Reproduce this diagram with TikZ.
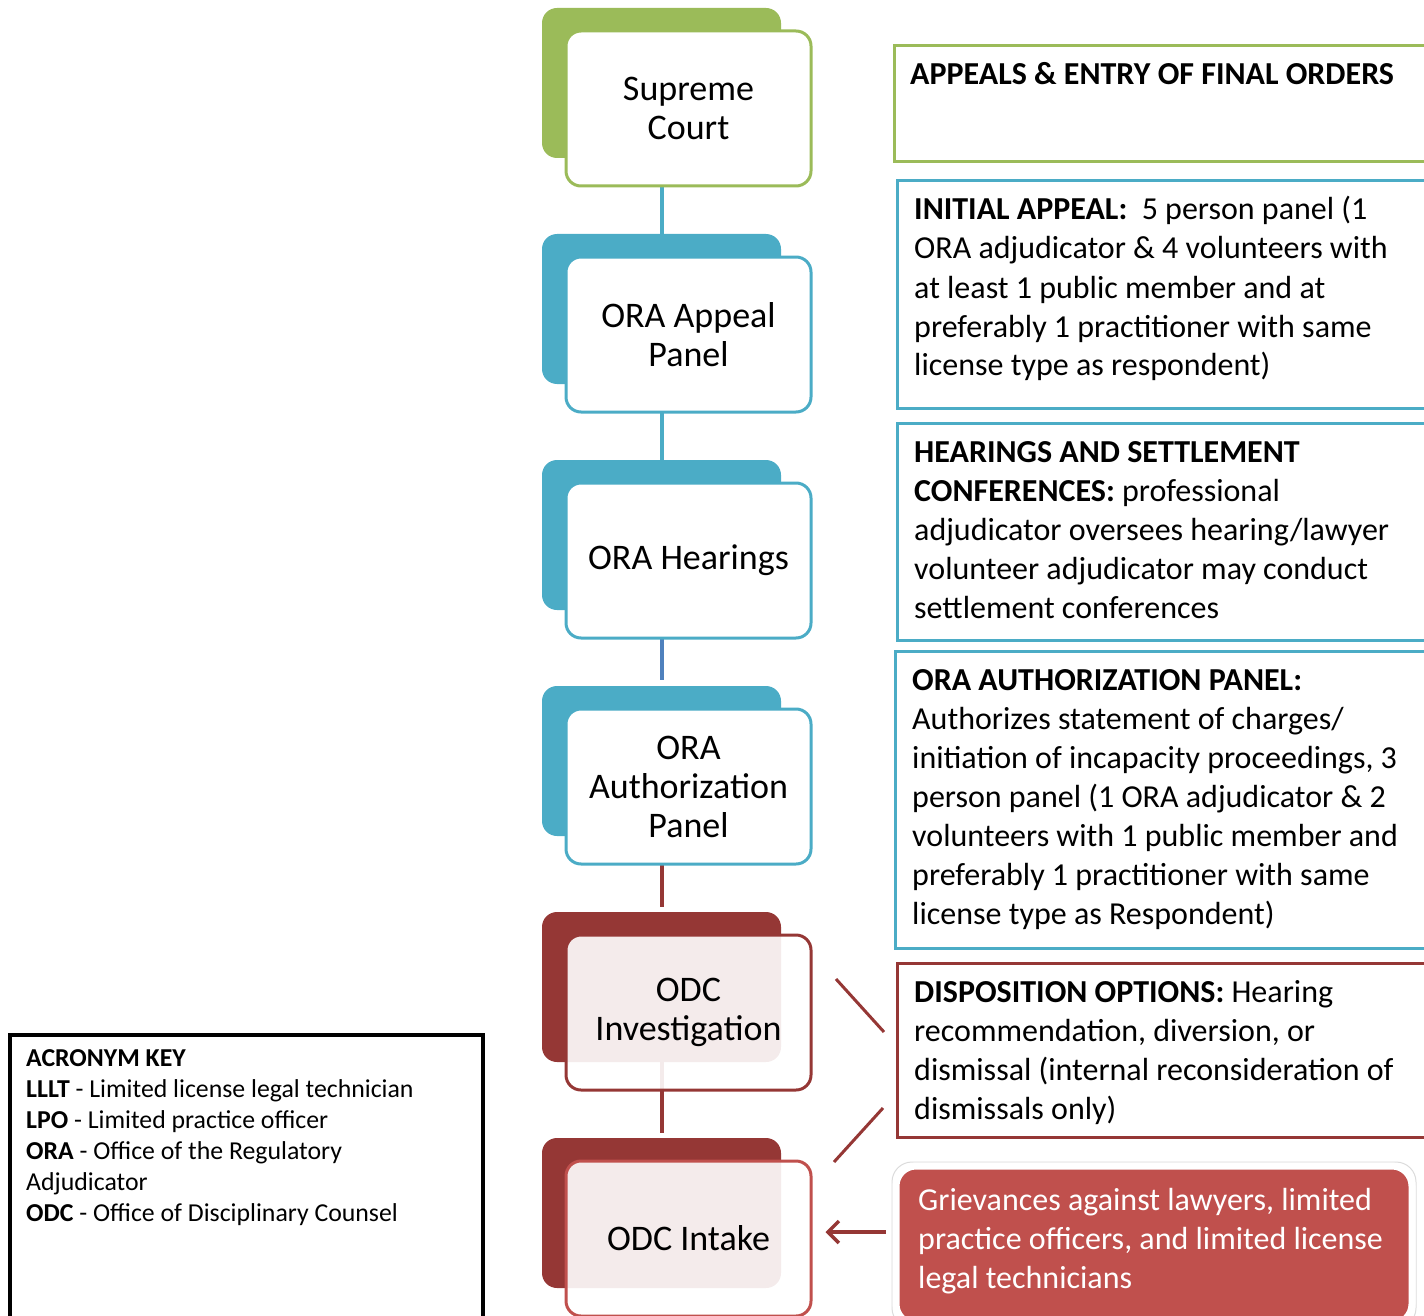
\documentclass[tikz,border=0pt]{standalone}
\usepackage{fontspec}
\setmainfont{Carlito}
\usetikzlibrary{arrows.meta}
\definecolor{cgreen}{HTML}{9BBB59}
\definecolor{cblue}{HTML}{4BACC6}
\definecolor{cdblue}{HTML}{4F81BD}
\definecolor{cdred}{HTML}{953735}
\definecolor{cred}{HTML}{C0504D}
\tikzset{
  backbox/.style={rounded corners=15pt, minimum width=239pt, minimum height=150pt, inner sep=0pt, fill=#1},
  frontbox/.style={rounded corners=15pt, minimum width=245pt, minimum height=155pt, inner sep=0pt, draw=#1, line width=3pt, fill=white, align=center, font=\fontsize{36}{39}\selectfont},
  conn/.style={line width=4pt, draw=#1},
  rbox/.style={draw=#1, line width=3pt, inner sep=0pt},
  rtext/.style={anchor=base west, inner sep=0pt, text width=515pt, align=left, font=\fontsize{32}{39}\selectfont,
    execute at begin node={\spaceskip=0pt\xspaceskip=0pt}},
  keytext/.style={anchor=base west, inner sep=0pt, text width=450pt, align=left, font=\fontsize{25.8}{31}\selectfont,
    execute at begin node={\spaceskip=0pt\xspaceskip=0pt}},
}
\begin{document}
\begin{tikzpicture}[x=1pt,y=-1pt]
\useasboundingbox (0,0) rectangle (1424,1316);
\clip (0,0) rectangle (1424,1316);
% back boxes
\node[backbox=cgreen] (b1) at (661.5,83) {};
\node[backbox=cblue] (b2) at (661.5,309) {};
\node[backbox=cblue] (b3) at (661.5,535) {};
\node[backbox=cblue] (b4) at (661.5,761) {};
\node[backbox=cdred] (b5) at (661.5,987) {};
\node[backbox=cdred] (b6) at (661.5,1213) {};
% connectors
\draw[conn=cblue] (b1.south) -- (b2.north);
\draw[conn=cblue] (b2.south) -- (b3.north);
\draw[conn=cdblue] (b3.south) -- ([yshift=6]b4.north);
\draw[conn=cdred] (b4.south) -- ([yshift=5]b5.north);
\draw[conn=cdred] (b5.south) -- ([yshift=5]b6.north);
% front boxes
\node[frontbox=cgreen] (f1) at (688.5,108.5) {Supreme\\Court};
\node[frontbox=cblue] (f2) at (688.5,334.5) {ORA Appeal\\Panel};
\node[frontbox=cblue] (f3) at (688.5,560.5) {ORA Hearings};
\node[frontbox=cblue] (f4) at (688.5,786.5) {ORA\\Authorization\\Panel};
\node[frontbox=cdred, fill opacity=0.9, text opacity=1] (f5) at (688.5,1012.5) {ODC\\Investigation};
\node[frontbox=cred, fill opacity=0.9, text opacity=1] (f6) at (688.5,1238.5) {ODC Intake};
% right boxes
\node[rbox=cgreen, minimum width=546pt, minimum height=116pt] (app) at (1167,104) {};
\node[rbox=cblue, minimum width=543pt, minimum height=227pt] (ini) at (1168.5,294.5) {};
\node[rbox=cblue, minimum width=543pt, minimum height=217pt] (hea) at (1168.5,531.5) {};
\node[rbox=cblue, minimum width=545pt, minimum height=297pt] (aut) at (1167.5,799.5) {};
\node[rbox=cdred, minimum width=543pt, minimum height=174pt] (dis) at (1168.5,1050) {};
\node[rounded corners=20pt, draw=black!14, line width=1pt, minimum width=524pt, minimum height=166pt, inner sep=0pt] (grvshadow) at (1154,1245) {};
\node[rounded corners=20pt, fill=cred, draw=white, line width=7pt, minimum width=516pt, minimum height=158pt, inner sep=0pt] (grv) at (1154,1245) {};
\node[draw=black, line width=4pt, minimum width=473pt, minimum height=295pt, inner sep=0pt] (key) at (246.5,1182.5) {};
% right texts
\node[rtext] (appt) at (910,85) {\textbf{APPEALS \& ENTRY OF FINAL ORDERS}};
\node[rtext] (init) at (914,220) {\textbf{INITIAL APPEAL:}\ \ 5 person panel (1\\ORA adjudicator \& 4 volunteers with\\at least 1 public member and at\\preferably 1 practitioner with same\\license type as respondent)};
\node[rtext] (heat) at (914,462) {\textbf{HEARINGS AND SETTLEMENT}\\\textbf{CONFERENCES:} professional\\adjudicator oversees hearing/lawyer\\volunteer adjudicator may conduct\\settlement conferences};
\node[rtext] (autt) at (912,690) {\textbf{ORA AUTHORIZATION PANEL:}\\Authorizes statement of charges/\\initiation of incapacity proceedings, 3\\person panel (1 ORA adjudicator \& 2\\volunteers with 1 public member and\\preferably 1 practitioner with same\\license type as Respondent)};
\node[rtext] (dist) at (914,1002) {\textbf{DISPOSITION OPTIONS:} Hearing\\recommendation, diversion, or\\dismissal (internal reconsideration of\\dismissals only)};
\node[rtext, text=white, text width=490pt] (grvt) at (918,1210) {Grievances against lawyers, limited\\practice officers, and limited license\\legal technicians};
\node[keytext] (keyt) at (26,1066) {\textbf{ACRONYM KEY}\\\textbf{LLLT} - Limited license legal technician\\\textbf{LPO} - Limited practice officer\\\textbf{ORA} - Office of the Regulatory\\Adjudicator\\\textbf{ODC} - Office of Disciplinary Counsel};
% disposition brackets
\coordinate (d1a) at (836,979);
\coordinate (d1b) at (884,1032);
\coordinate (d2a) at (834,1162);
\coordinate (d2b) at (883,1108);
\draw[line width=3pt, cdred] (d1a) -- (d1b);
\draw[line width=3pt, cdred] (d2a) -- (d2b);
% arrow
\draw[line width=3.5pt, cdred, -{Straight Barb[length=11pt,width=22pt]}] ([xshift=-7,yshift=13]grv.west) -- ([xshift=13,yshift=6.5]f6.east);
\end{tikzpicture}
\end{document}
